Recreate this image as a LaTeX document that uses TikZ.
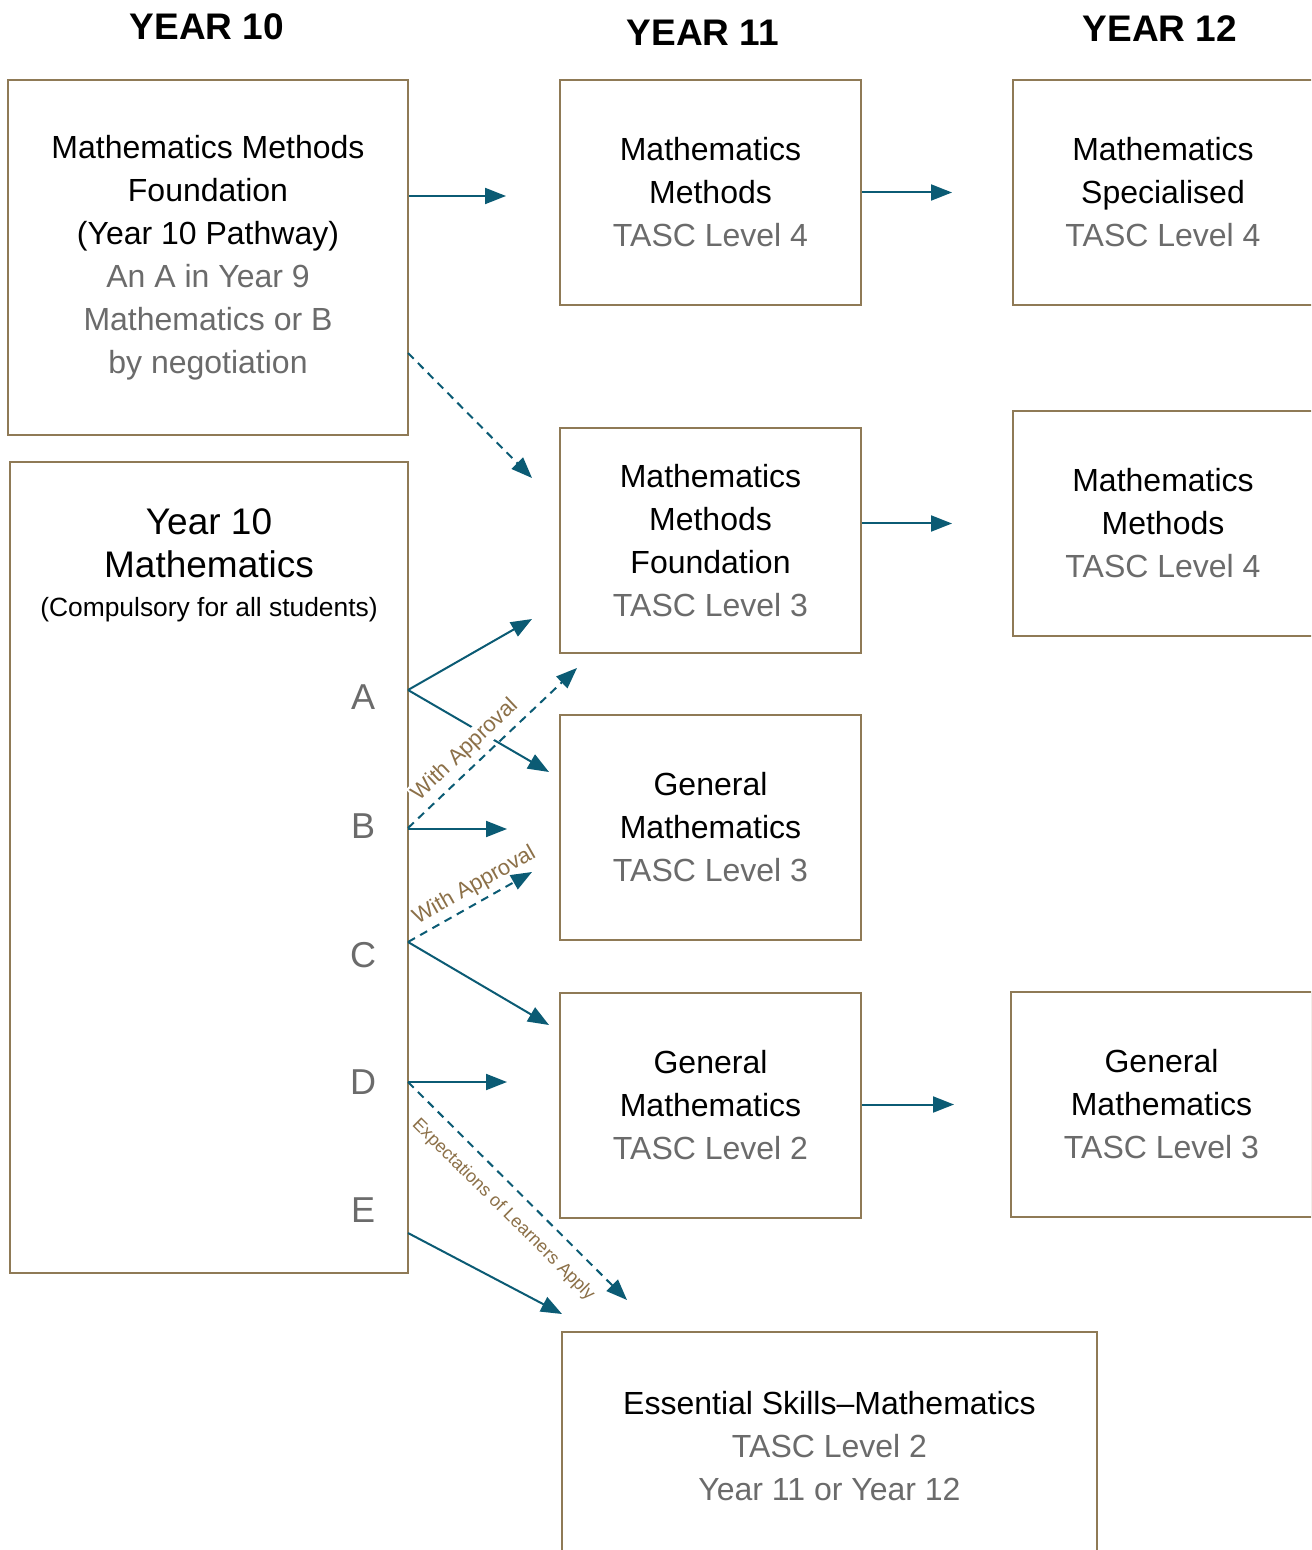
\documentclass[tikz,border=0pt]{standalone}
\usepackage{fontspec}
\setmainfont{Liberation Sans}
\usetikzlibrary{arrows.meta}
\definecolor{boxbrown}{HTML}{8F7A56}
\definecolor{arrowteal}{HTML}{0B5B74}
\definecolor{notebrown}{HTML}{8C7048}
\definecolor{levelgray}{HTML}{6B6B6B}
\newcommand{\lvl}[1]{\textcolor{levelgray}{#1}}
\tikzset{
  course/.style={draw=boxbrown, line width=1pt, align=center, inner sep=0pt,
    minimum width=150.5pt, minimum height=112.5pt, font=\fontsize{16}{21.5}\selectfont},
  route/.style={arrowteal, line width=1pt, -{Triangle[length=10.5pt,width=8pt]}},
  maybe/.style={route, dash pattern=on 4pt off 3pt},
  note/.style={text=notebrown, sloped, inner sep=1pt, font=\fontsize{11}{13}\selectfont},
  yearhead/.style={font=\bfseries\fontsize{18.5}{22}\selectfont},
  grade/.style={text=levelgray, font=\fontsize{18}{20}\selectfont}
}
\begin{document}
\begin{tikzpicture}[x=0.5pt, y=-0.5pt]
  \fill[white] (0,0) rectangle (1311,1550);
  \useasboundingbox (0,0) rectangle (1311,1550);
  \clip (0,0) rectangle (1311,1550);

  \node[yearhead] (y10head) at (207,27) {YEAR 10};
  \node[yearhead] (y11head) at (703,33) {YEAR 11};
  \node[yearhead] (y12head) at (1160,29) {YEAR 12};

  \node[course, minimum width=200pt, minimum height=177.5pt] (mmf10) at (208,257.5)
    {Mathematics Methods\\Foundation\\(Year 10 Pathway)\\\lvl{An A in Year 9}\\\lvl{Mathematics or B}\\\lvl{by negotiation}};
  \node[course, minimum width=199pt, minimum height=405.5pt] (y10) at (209,867.5) {};
  \node[align=center, font=\fontsize{18.5}{21.5}\selectfont] (y10title) at (209,543) {Year 10\\Mathematics};
  \node[font=\fontsize{13.2}{15}\selectfont] (y10sub) at (209,610) {(Compulsory for all students)};
  \foreach \g/\y in {A/697,B/826,C/955,D/1082,E/1210}
    \node[grade] (grade\g) at (363,\y) {\g};

  \node[course] (m11) at (710.5,192.5) {Mathematics\\Methods\\\lvl{TASC Level 4}};
  \node[course] (mmf11) at (710.5,540.5) {Mathematics\\Methods\\Foundation\\\lvl{TASC Level 3}};
  \node[course] (gm3) at (710.5,827.5) {General\\Mathematics\\\lvl{TASC Level 3}};
  \node[course] (gm2) at (710.5,1105.5) {General\\Mathematics\\\lvl{TASC Level 2}};
  \node[course, minimum width=267.5pt, minimum height=114pt] (es) at (829.5,1446)
    {Essential Skills\textendash Mathematics\\\lvl{TASC Level 2}\\\lvl{Year 11 or Year 12}};

  \node[course, minimum width=150pt] (spec) at (1163,192.5) {Mathematics\\Specialised\\\lvl{TASC Level 4}};
  \node[course, minimum width=150pt] (m12) at (1163,523.5) {Mathematics\\Methods\\\lvl{TASC Level 4}};
  \node[course] (gm312) at (1161.5,1104.5) {General\\Mathematics\\\lvl{TASC Level 3}};

  \draw[route, shorten >=26.5pt] (mmf10.east |- 0,196) -- (m11.west |- 0,196);
  \draw[route, shorten >=30pt] (m11.east |- spec) -- (spec.west);
  \draw[route, shorten >=30pt] (mmf11.east |- m12) -- (m12.west);
  \draw[route, shorten >=28pt] (gm2.east |- gm312) -- (gm312.west);

  \coordinate (fromMMF) at (408,353);
  \coordinate (toMMF) at (532,478);
  \draw[maybe] (fromMMF) -- (toMMF);

  \coordinate (outA) at (408,690);
  \coordinate (outB) at (408,828);
  \coordinate (outC) at (408,942);
  \coordinate (outD) at (408,1082);
  \coordinate (outE) at (408,1233);
  \coordinate (tipA1) at (532,619);
  \coordinate (tipA2) at (549,772);
  \coordinate (tipB1) at (577,668);
  \coordinate (tipB2) at (507,829);
  \coordinate (tipC1) at (532,872);
  \coordinate (tipC2) at (549,1025);
  \coordinate (tipD1) at (507,1082);
  \coordinate (tipD2) at (627,1300);
  \coordinate (tipE) at (562,1314);

  \draw[route] (outA) -- (tipA1);
  \draw[route] (outA) -- (tipA2);
  \draw[maybe] (outB) -- node[note, pos=.41, above=2pt, fill=white] (ok1) {With Approval} (tipB1);
  \draw[route] (outB |- tipB2) -- (tipB2);
  \draw[maybe] (outC) -- node[note, pos=.6, above=1.5pt] (ok2) {With Approval} (tipC1);
  \draw[route] (outC) -- (tipC2);
  \draw[route] (outD) -- (tipD1);
  \draw[maybe] (outD) -- node[note, pos=.51, below=7pt, inner sep=0pt, font=\fontsize{9}{11}\selectfont] (expect) {Expectations of Learners Apply} (tipD2);
  \draw[route] (outE) -- (tipE);
\end{tikzpicture}
\end{document}
